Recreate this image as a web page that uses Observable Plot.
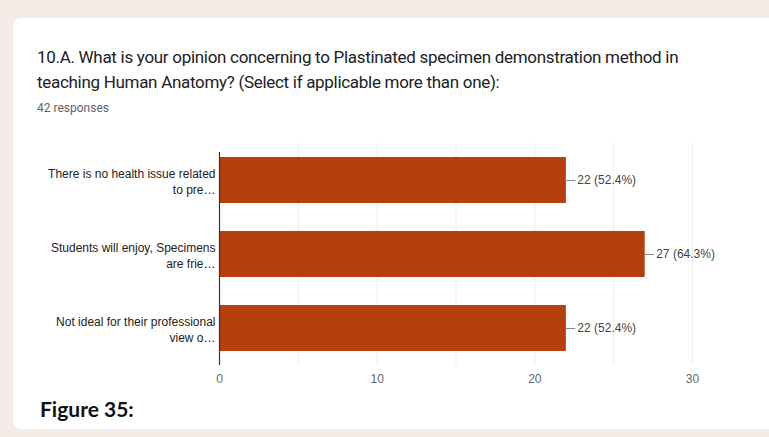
<!DOCTYPE html>
<html>
<head>
<meta charset="utf-8">
<script src="https://cdn.jsdelivr.net/npm/d3@7"></script>
<script src="https://cdn.jsdelivr.net/npm/@observablehq/plot@0.6"></script>
<style>
  html, body { margin: 0; padding: 0; }
  body { width: 769px; height: 437px; background: #f6ebe6; position: relative; overflow: hidden; }
  .card { position: absolute; left: 13px; top: 18px; width: 790px; height: 411px; background: #fff; border-radius: 8px; }
  .title { position: absolute; left: 37px; top: 45px; font-family: Roboto, "Noto Sans", sans-serif; font-size: 17px; line-height: 25px; color: #202124; letter-spacing: -0.3px; }
  .sub { position: absolute; left: 37px; top: 101px; font-family: Roboto, sans-serif; font-size: 12px; color: #5f6368; }
  .fig { position: absolute; left: 40px; top: 396px; font-family: Lato, "Open Sans", sans-serif; font-weight: bold; font-size: 21px; color: #111; }
  #chart { position: absolute; left: 0; top: 130px; }
</style>
</head>
<body>
<div class="card"></div>
<div class="title">10.A. What is your opinion concerning to Plastinated specimen demonstration method in<br>teaching Human Anatomy? (Select if applicable more than one):</div>
<div class="sub">42 responses</div>
<div id="chart"></div>
<div class="fig">Figure 35:</div>
<script>
const categories = [
  "There is no health issue related\nto pre…",
  "Students will enjoy, Specimens\nare frie…",
  "Not ideal for their professional\nview o…"
];
const counts = [22, 27, 22];
const totalResponses = 42;
const xTicks = [0, 10, 20, 30];
const gridTicks = [5, 10, 15, 20, 25, 30];

const data = categories.map((c, i) => ({
  cat: c,
  n: counts[i],
  label: `${counts[i]} (${(counts[i] / totalResponses * 100).toFixed(1)}%)`
}));

const chart = Plot.plot({
  width: 769,
  height: 265,
  marginLeft: 219,
  marginRight: 77,
  marginTop: 13,
  marginBottom: 30,
  style: { fontFamily: "Arial, 'Liberation Sans', sans-serif", fontSize: "12px", background: "transparent" },
  x: { type: "linear", domain: [0, 30], label: null },
  y: { domain: categories, paddingInner: 0.38, paddingOuter: 0.19, label: null },
  marks: [
    Plot.ruleX(gridTicks, { stroke: "#ececec", strokeWidth: 1 }),
    Plot.barX(data, { x: "n", y: "cat", fill: "#b5400e" }),
    Plot.ruleX([0], { stroke: "#333", strokeWidth: 1.2, insetTop: 9 }),
    Plot.ruleY(data, { y: "cat", x1: "n", x2: d => d.n + 0.6, stroke: "#888", strokeWidth: 1 }),
    Plot.text(data, { x: "n", y: "cat", text: "label", textAnchor: "start", dx: 11, fill: "#444", fontSize: 12 }),
    Plot.axisX({ ticks: xTicks, tickSize: 0, tickPadding: 9, fill: "#666", fontSize: 12 }),
    Plot.axisY({ tickSize: 0, tickPadding: 4, fill: "#222", fontSize: 12, lineHeight: 1.35 })
  ]
});
document.getElementById("chart").appendChild(chart);
</script>
</body>
</html>
